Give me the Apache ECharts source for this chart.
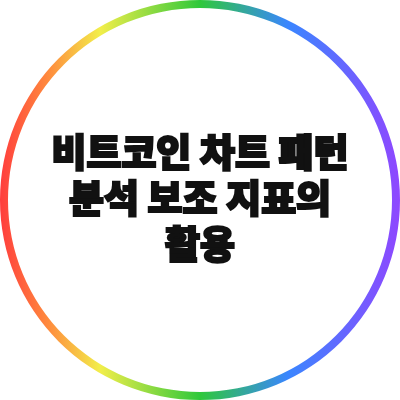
<!DOCTYPE html>
<html>
<head>
<meta charset="utf-8">
<script src="https://cdn.jsdelivr.net/npm/echarts@6/dist/echarts.min.js"></script>
<style>
  html, body { margin: 0; padding: 0; background: #fff; }
  #chart-container { width: 400px; height: 400px; }
</style>
</head>
<body>
<div id="chart-container"></div>
<script>
var titleLines = ['비트코인 차트 패턴', '분석 보조 지표의', '활용'];
var ringValues = [1];
var ringStops = [
  [0, '#ff3d3d'],
  [0.12, '#ff8a3d'],
  [0.25, '#f2ee4a'],
  [0.5, '#2ec83a'],
  [0.72, '#3a86ff'],
  [1, '#8f47ff']
];

var dom = document.getElementById('chart-container');
var myChart = echarts.init(dom, null, { renderer: 'canvas' });

var ringColor = new echarts.graphic.LinearGradient(
  0, 0, 1, 0,
  ringStops.map(function (s) { return { offset: s[0], color: s[1] }; })
);

// one centred text element per title line
var titleText = titleLines.map(function (line, i) {
  return {
    type: 'text',
    left: 'center',
    top: 131 + i * 46,
    silent: true,
    style: {
      text: line,
      fontFamily: 'Noto Sans CJK KR',
      fontSize: 38,
      fontWeight: 900,
      fill: '#111111',
      stroke: '#111111',
      lineWidth: 2.2
    }
  };
});

var option = {
  backgroundColor: '#ffffff',
  animation: false,
  graphic: titleText,
  series: [
    {
      type: 'pie',
      silent: true,
      center: [200, 200],
      radius: [192, 200],
      label: { show: false },
      labelLine: { show: false },
      itemStyle: { color: ringColor, borderWidth: 0 },
      data: ringValues.map(function (v) { return { value: v }; })
    }
  ]
};

myChart.setOption(option);
window.addEventListener('resize', myChart.resize);
</script>
</body>
</html>
